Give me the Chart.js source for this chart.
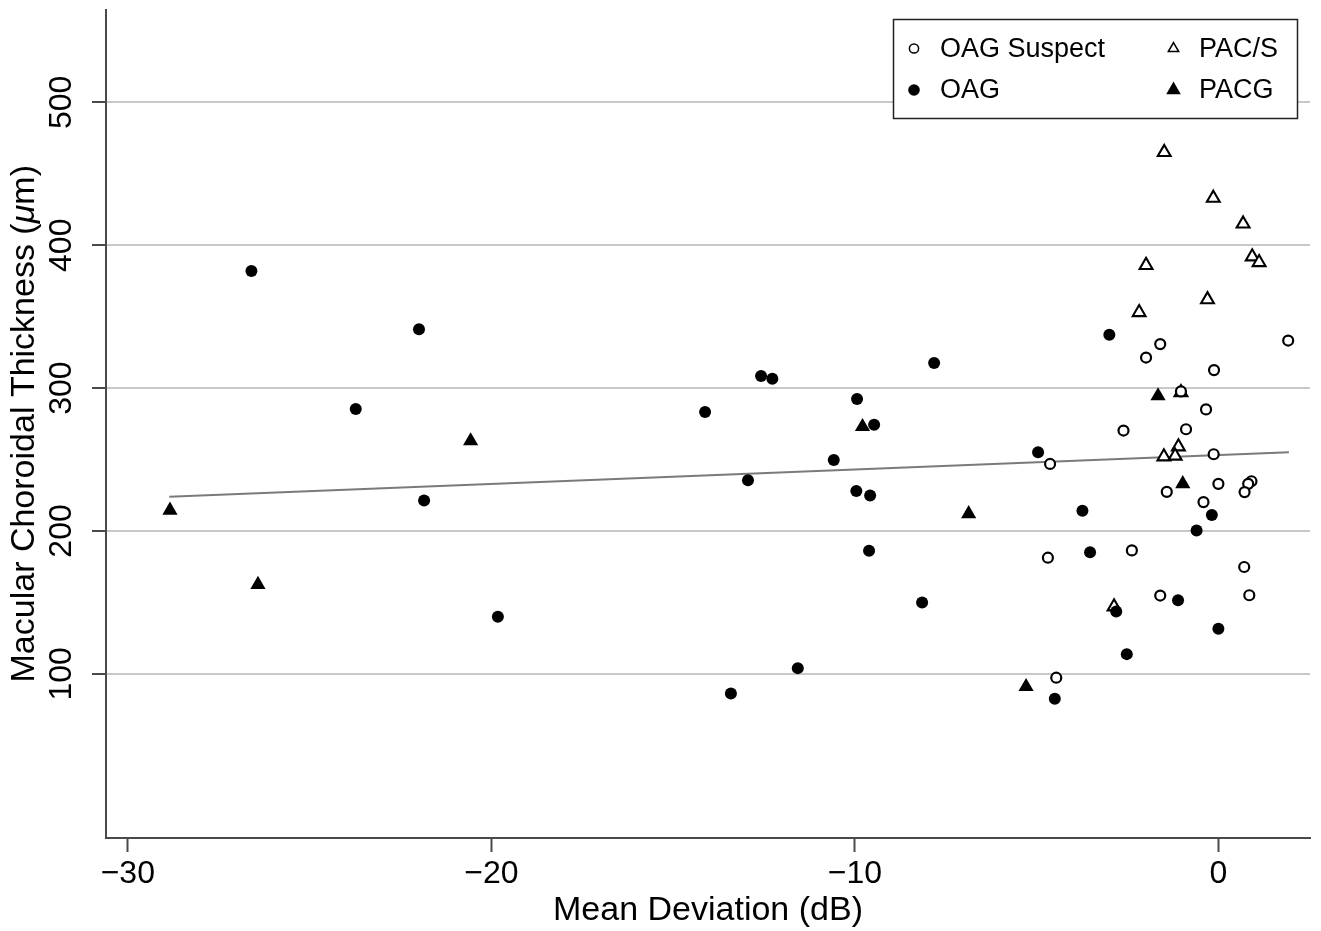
<!DOCTYPE html>
<html>
<head>
<meta charset="utf-8">
<title>Macular Choroidal Thickness vs Mean Deviation</title>
<script src="https://cdn.jsdelivr.net/npm/chart.js@4.4.1/dist/chart.umd.min.js"></script>
<style>
  html, body { margin: 0; padding: 0; background: #fff; }
  #wrap { width: 1321px; height: 931px; position: relative; }
</style>
</head>
<body>
<div id="wrap"><canvas id="grafico"></canvas></div>
<script>
// ===============================
// DATOS
// ===============================
const xTicks = [-30, -20, -10, 0];
const yTicks = [100, 200, 300, 400, 500];
const xRange = [-30.6, 2.52];
const yRange = [-14.9, 565];

// OAG Suspect (círculo vacío)
const oagSuspectX = [-4.63, -1.60, -1.99, 1.92, -0.12, -1.03, -0.34, -2.61, -0.89, -0.13, 0.0, 0.91, 0.82, 0.72, -1.42, -0.41, -4.69, -2.38, 0.71, -1.60, 0.85, -4.46];
const oagSuspectY = [246.9, 330.8, 321.4, 333.3, 312.6, 297.7, 285.1, 270.3, 271.2, 253.7, 233.0, 234.8, 233.0, 227.2, 227.4, 220.2, 181.3, 186.4, 174.8, 154.8, 155.0, 97.3];

// OAG (círculo lleno)
const oagX = [-26.6, -21.99, -23.73, -21.85, -19.82, -14.12, -12.58, -12.27, -7.82, -9.94, -9.47, -10.58, -12.94, -9.96, -9.58, -9.61, -8.15, -11.57, -13.41, -3.00, -4.96, -0.18, -0.60, -3.74, -3.53, -1.11, -2.81, 0.0, -2.52, -4.50];
const oagY = [382, 341.2, 285.3, 221.4, 139.9, 283.2, 308.4, 306.6, 317.5, 292.3, 274.4, 249.7, 235.5, 227.9, 224.9, 186.2, 149.9, 104.0, 86.3, 337.3, 255.1, 211.1, 200.4, 214.1, 185.1, 151.5, 143.6, 131.5, 113.8, 82.6];

// PAC/S (triángulo vacío)
const pacsX = [-1.49, -0.14, 0.68, 0.93, 1.12, -1.99, -0.30, -2.18, -1.03, -1.10, -1.50, -1.19, -2.87];
const pacsY = [465, 433, 415, 392, 388, 386, 362, 353, 297, 259, 252, 252.5, 147];

// PACG (triángulo lleno)
const pacgX = [-28.84, -26.42, -20.57, -9.79, -6.87, -5.29, -1.66, -0.98];
const pacgY = [214.5, 162.5, 263, 273, 212, 91, 294.5, 233];

// Recta de ajuste (extremos)
const fitX = [-28.86, 1.94];
const fitY = [223.9, 255.1];

const toPoints = (xs, ys) => xs.map((x, i) => ({ x: x, y: ys[i] }));

// ===============================
// ESTILOS
// ===============================
const FONT = '"Liberation Sans", Arial, Helvetica, sans-serif';
const AXIS_COLOR = "#4a4a4a";
const GRID_COLOR = "#c8c8c8";

const minus = v => String(v).replace("-", "\u2212");

// ===============================
// PLUGINS
// ===============================
// título del eje Y con μ en cursiva
const tituloY = {
  id: "tituloY",
  afterDraw(chart) {
    const ctx = chart.ctx;
    const area = chart.chartArea;
    const parts = [
      { t: "Macular Choroidal Thickness (", f: "34px " + FONT },
      { t: "\u03bc", f: "italic 34px " + FONT },
      { t: "m)", f: "34px " + FONT }
    ];
    ctx.save();
    let total = 0;
    parts.forEach(p => { ctx.font = p.f; p.w = ctx.measureText(p.t).width; total += p.w; });
    ctx.translate(25, (area.top + area.bottom) / 2);
    ctx.rotate(-Math.PI / 2);
    ctx.fillStyle = "#000";
    ctx.textBaseline = "middle";
    ctx.textAlign = "left";
    let x = -total / 2;
    parts.forEach(p => { ctx.font = p.f; ctx.fillText(p.t, x, 0); x += p.w; });
    ctx.restore();
  }
};

// leyenda en caja de 2 columnas
const leyenda = {
  id: "leyenda",
  afterDraw(chart) {
    const ctx = chart.ctx;
    const box = { x: 893.5, y: 19.5, w: 404, h: 99 };
    ctx.save();
    ctx.fillStyle = "#fff";
    ctx.fillRect(box.x, box.y, box.w, box.h);
    ctx.strokeStyle = "#222";
    ctx.lineWidth = 1.5;
    ctx.strokeRect(box.x, box.y, box.w, box.h);

    const slots = [
      { ds: 0, mx: 914, my: 48.5, tx: 940 },
      { ds: 1, mx: 914, my: 90, tx: 940 },
      { ds: 2, mx: 1173.5, my: 48.5, tx: 1199 },
      { ds: 3, mx: 1173.5, my: 90, tx: 1199 }
    ];
    slots.forEach(s => {
      const d = chart.data.datasets[s.ds];
      ctx.fillStyle = d.backgroundColor;
      ctx.strokeStyle = d.borderColor;
      Chart.helpers.drawPoint(ctx, {
        pointStyle: d.pointStyle,
        radius: d.legendRadius,
        rotation: 0,
        borderWidth: d.borderWidth
      }, s.mx, s.my);
      ctx.fillStyle = "#000";
      ctx.font = "27px " + FONT;
      ctx.textBaseline = "middle";
      ctx.textAlign = "left";
      ctx.fillText(d.label, s.tx, s.my + 1);
    });
    ctx.restore();
  }
};

// ===============================
// GRÁFICO
// ===============================
const ctx = document.getElementById("grafico").getContext("2d");
const grafico = new Chart(ctx, {
  type: "scatter",
  data: {
    datasets: [
      {
        label: "OAG Suspect",
        data: toPoints(oagSuspectX, oagSuspectY),
        pointStyle: "circle",
        pointRadius: 5,
        legendRadius: 4.6,
        backgroundColor: "#fff",
        borderColor: "#000",
        borderWidth: 2.2
      },
      {
        label: "OAG",
        data: toPoints(oagX, oagY),
        pointStyle: "circle",
        pointRadius: 6,
        legendRadius: 5.8,
        backgroundColor: "#000",
        borderColor: "#000",
        borderWidth: 0
      },
      {
        label: "PAC/S",
        data: toPoints(pacsX, pacsY),
        pointStyle: "triangle",
        pointRadius: 7.4,
        legendRadius: 6,
        backgroundColor: "#fff",
        borderColor: "#000",
        borderWidth: 2.1
      },
      {
        label: "PACG",
        data: toPoints(pacgX, pacgY),
        pointStyle: "triangle",
        pointRadius: 8.8,
        legendRadius: 8.4,
        backgroundColor: "#000",
        borderColor: "#000",
        borderWidth: 0
      },
      {
        type: "line",
        label: "Ajuste",
        data: toPoints(fitX, fitY),
        borderColor: "#7a7a7a",
        borderWidth: 2,
        pointRadius: 0,
        fill: false,
        order: 10
      }
    ]
  },
  options: {
    responsive: true,
    maintainAspectRatio: false,
    animation: false,
    events: [],
    layout: { padding: { top: 7, right: 11, left: 0, bottom: 0 } },
    plugins: {
      legend: { display: false },
      tooltip: { enabled: false }
    },
    scales: {
      x: {
        type: "linear",
        min: xRange[0],
        max: xRange[1],
        afterBuildTicks: s => { s.ticks = xTicks.map(v => ({ value: v })); },
        afterFit: s => { s.height = 93; s.paddingLeft = 0; s.paddingRight = 0; },
        border: { color: AXIS_COLOR, width: 2 },
        grid: { drawOnChartArea: false, tickLength: 14, tickColor: AXIS_COLOR, tickWidth: 2 },
        ticks: {
          color: "#000",
          padding: 3,
          font: { family: FONT, size: 32 },
          callback: v => minus(v)
        },
        title: {
          display: true,
          text: "Mean Deviation (dB)",
          color: "#000",
          font: { family: FONT, size: 34 },
          padding: { top: 0, bottom: 0 }
        }
      },
      y: {
        type: "linear",
        min: yRange[0],
        max: yRange[1],
        afterBuildTicks: s => { s.ticks = yTicks.map(v => ({ value: v })); },
        afterFit: s => { s.width = 106; s.paddingTop = 0; s.paddingBottom = 0; },
        border: { color: AXIS_COLOR, width: 2 },
        grid: { color: GRID_COLOR, lineWidth: 2, tickLength: 14, tickColor: AXIS_COLOR, tickWidth: 2 },
        ticks: {
          color: "#000",
          padding: 3,
          minRotation: 90,
          maxRotation: 90,
          crossAlign: "center",
          font: { family: FONT, size: 32 },
          callback: v => minus(v)
        },
        title: { display: false }
      }
    }
  },
  plugins: [tituloY, leyenda]
});
</script>
</body>
</html>
